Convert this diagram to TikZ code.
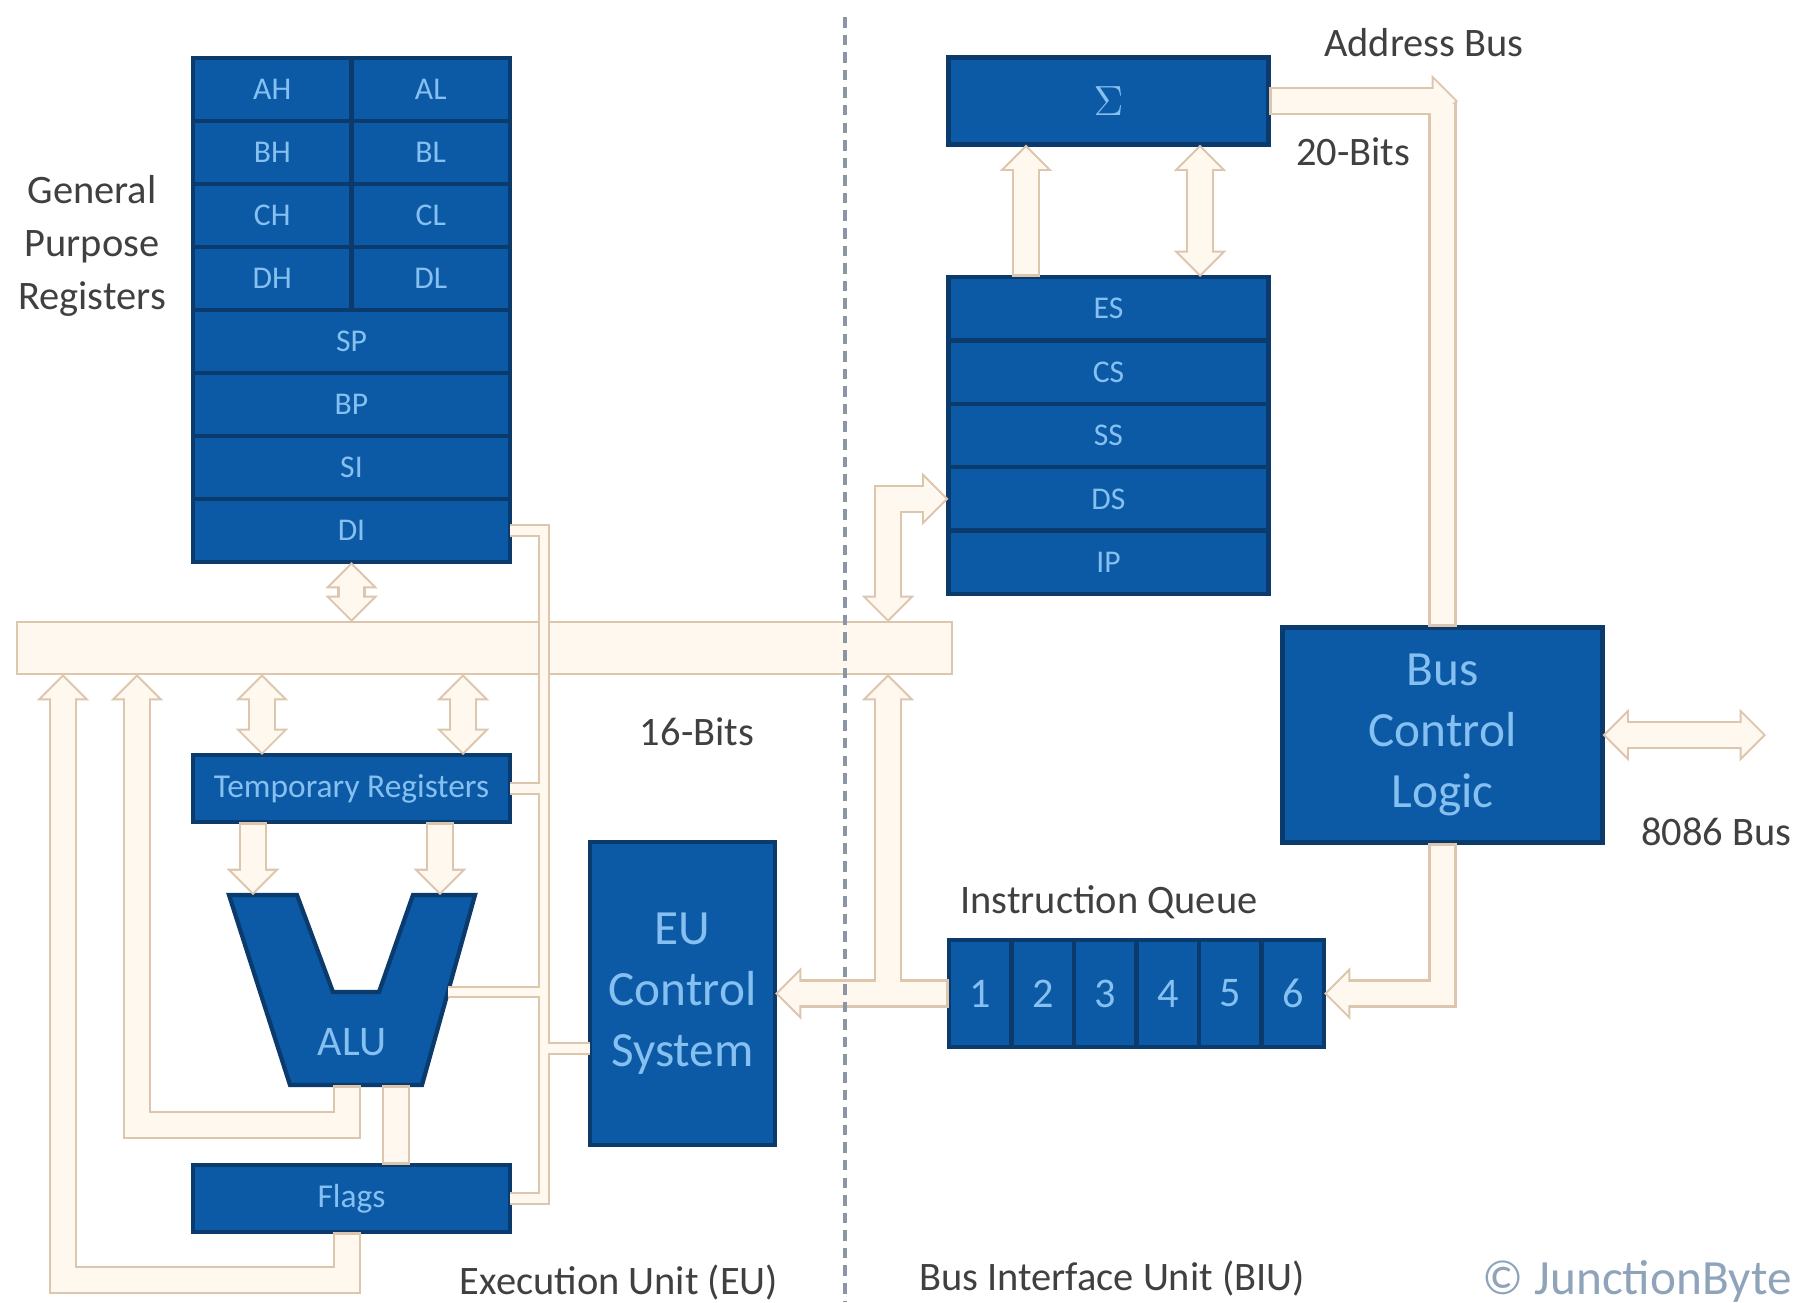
\documentclass[tikz,border=0pt]{standalone}
\usepackage{fontspec}
\setmainfont{Carlito}
\usetikzlibrary{arrows.meta,calc,positioning}
\definecolor{regfill}{HTML}{0C5AA6}
\definecolor{regedge}{HTML}{0B3A6C}
\definecolor{regtext}{HTML}{85C0F0}
\definecolor{busline}{HTML}{DCC6AE}
\definecolor{busfill}{HTML}{FFF8EE}
\definecolor{labeltext}{HTML}{404040}
\definecolor{divline}{HTML}{8A96A3}
\definecolor{marktext}{HTML}{8FA3BA}
\tikzset{
  reg/.style={draw=regedge, line width=1.2pt, fill=regfill, text=regtext,
    inner sep=0pt, outer sep=0pt, font=\fontsize{9}{11}\selectfont},
  unitbox/.style={reg, align=center, font=\fontsize{14}{17.4}\selectfont},
  lbl/.style={text=labeltext, font=\fontsize{11.5}{14}\selectfont},
  busbar/.style={draw=busline, line width=0.6pt, fill=busfill, inner sep=0pt, outer sep=0pt},
  % hollow bus arrows are drawn in two passes: outline, then filling
  busout/.style={draw=busline, line width=8pt, line join=miter,
    >={Triangle[length=7.5pt,width=15pt,line width=0pt]}},
  busin/.style={draw=busfill, line width=6.8pt, line join=miter,
    shorten <=0.85pt, shorten >=0.85pt,
    >={Triangle[length=6.05pt,width=12.1pt,line width=0pt]}},
  wireout/.style={draw=busline, line width=3.6pt, line join=miter},
  wirein/.style={draw=busfill, line width=2.4pt, line join=miter},
}
\begin{document}
\begin{tikzpicture}[x=0.01cm, y=-0.01cm]
  \useasboundingbox (0,0) rectangle (1808,1302);
  % internal data bus
  \node[busbar, minimum width=9.35cm, minimum height=0.52cm] (bus) at (484.5,648) {};
  % general purpose registers
  \foreach \h/\l [count=\i] in {AH/AL,BH/BL,CH/CL,DH/DL}
    {
    \node[reg, minimum width=1.585cm, minimum height=0.63cm] (\h) at (272.25,{26.5+63*\i}) {\h};
    \node[reg, minimum width=1.585cm, minimum height=0.63cm] (\l) at (430.75,{26.5+63*\i}) {\l};
    }
  \foreach \r [count=\i from 5] in {SP,BP,SI,DI}
    \node[reg, minimum width=3.17cm, minimum height=0.63cm] (\r) at (351.5,{26.5+63*\i}) {\r};
  \node[lbl, align=center, font=\fontsize{11.5}{15.1}\selectfont] (gprname) at (92,246) {General\\Purpose\\Registers};
  % execution unit
  \node[reg, minimum width=3.17cm, minimum height=0.67cm, font=\fontsize{9.5}{11}\selectfont] (temp) at (351.5,788.5) {Temporary Registers};
  \draw[reg] (229,895) -- (297,895) -- (333,992) -- (379,992) -- (413,895)
    -- (475,895) -- (422,1085) -- (290,1085) -- cycle;
  \node[text=regtext, font=\fontsize{12}{14}\selectfont] (alu) at (352,1042) {ALU};
  \node[reg, minimum width=3.17cm, minimum height=0.67cm, font=\fontsize{9.5}{11}\selectfont] (flags) at (351.5,1198.5) {Flags};
  \node[unitbox, minimum width=1.85cm, minimum height=3.03cm] (euc) at (682.5,993.5) {EU\\Control\\System};
  % bus interface unit
  \node[reg, minimum width=3.2cm, minimum height=0.87cm, font=\fontsize{13}{15}\selectfont] (sum) at (1108.5,101) {$\Sigma$};
  \foreach \r [count=\i] in {ES,CS,SS,DS,IP}
    \node[reg, minimum width=3.2cm, minimum height=0.634cm] (\r) at (1108.5,{245.3+63.4*\i}) {\r};
  \node[unitbox, minimum width=3.2cm, minimum height=2.15cm] (bcl) at (1442.5,735) {Bus\\Control\\Logic};
  \foreach \i in {1,...,6}
    \node[reg, minimum width=0.625cm, minimum height=1.07cm, font=\fontsize{12}{14}\selectfont] (q\i) at ({917.75+62.5*\i},993.5) {\i};
  % connection points
  \coordinate (alu-l) at (253,895);
  \coordinate (alu-r) at (440,895);
  \coordinate (alu-e) at (448,992);
  \coordinate (alu-b) at (347,1085);
  \coordinate (alu-s) at (396,1085);
  \coordinate (ctl) at (544,0);
  \coordinate (ctlin) at ($(euc.west)+(0,55)$);
  \coordinate (addr) at (1458,101);
  \coordinate (ext) at (1766,740);
  % buses
  \foreach \pipe/\wire in {busout/wireout,busin/wirein}
    {
    \draw[\pipe,<->] (DI.south) -- (DI.south |- bus.north);
    \draw[\pipe,<->] (262,0 |- bus.south) -- (262,0 |- temp.north);
    \draw[\pipe,<->] (463,0 |- bus.south) -- (463,0 |- temp.north);
    \draw[\pipe,->] (alu-l |- temp.south) -- (alu-l);
    \draw[\pipe,->] (alu-r |- temp.south) -- (alu-r);
    \draw[\pipe] (alu-s) -- (alu-s |- flags.north);
    \draw[\pipe,->] (alu-b) -- ++(0,40) -| (137,0 |- bus.south);
    \draw[\pipe,->] (alu-b |- flags.south) -- ++(0,48) -| (63,0 |- bus.south);
    \draw[\pipe,<->] (888,0 |- bus.north) |- (DS.west);
    \draw[\pipe,->] (888,0 |- q1.west) -- (888,0 |- bus.south);
    \draw[\pipe,->] (q1.west) -- (euc.east);
    \draw[\pipe,->] (1026,0 |- ES.north) -- (1026,0 |- sum.south);
    \draw[\pipe,<->] (1200,0 |- sum.south) -- (1200,0 |- ES.north);
    \draw[\pipe] (bcl.north) -- (bcl.north |- addr);
    \draw[\pipe,->] (sum.east) -- (addr);
    \draw[\pipe,->] (bcl.south) |- (q6.east);
    \draw[\pipe,<->] (bcl.east) -- (bcl.east -| ext);
    \draw[\wire] (temp.east) -- (ctl |- temp.east);
    \draw[\wire] (alu-e) -- (ctl |- alu-e);
    \draw[\wire] (ctl |- ctlin) -- (ctlin);
    \draw[\wire] (DI.east) -| (ctl |- flags.east) -- (flags.east);
    }
  \draw[divline, line width=1.2pt, densely dashed] (845,17) -- (845,1302);
  % labels
  \node[lbl] (addrname) at (1424,43) {Address Bus};
  \node[lbl] (addrbits) at (1353,152) {20-Bits};
  \node[lbl] (databits) at (697,732) {16-Bits};
  \node[lbl] (qname) at (1109,902) {Instruction Queue};
  \node[lbl, anchor=east] (extname) at (1804,832) {8086 Bus};
  \node[lbl] (euname) at (619,1282) {Execution Unit (EU)};
  \node[lbl] (biuname) at (1112,1278) {Bus Interface Unit (BIU)};
  \node[anchor=east, text=marktext, font=\fontsize{14}{16}\selectfont] (mark) at (1804,1281) {\textcopyright\ JunctionByte};
\end{tikzpicture}
\end{document}
